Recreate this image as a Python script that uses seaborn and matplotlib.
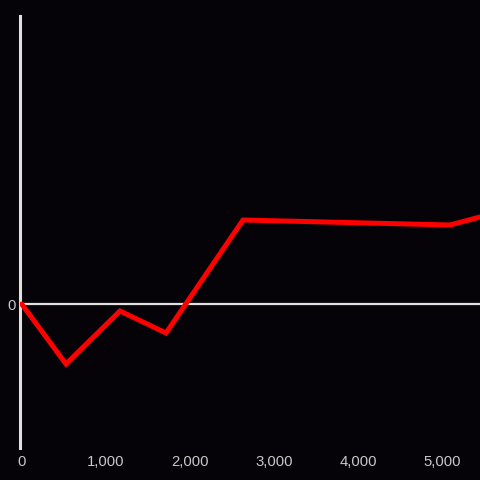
import pandas as pd
import seaborn as sns
import matplotlib
import matplotlib.pyplot as plt

sns.set_style('dark')
matplotlib.rcParams['font.family'] = ['Liberation Sans', 'DejaVu Sans']

bg = '#050307'
axis_col = '#e0e0e0'
label_col = '#c8c8c8'

x_vals = [0, 527, 1169, 1716, 2632, 5093, 5450]
y_vals = [0, -60, -7, -29, 84, 79, 87]
x_ticks = [0, 1000, 2000, 3000, 4000, 5000]

data = pd.DataFrame({'x': x_vals, 'y': y_vals})

fig = plt.figure(figsize=(4.8, 4.8), dpi=100, facecolor=bg)
ax = fig.add_axes([20 / 480, 32 / 480, 460 / 480, 432 / 480])
ax.set_facecolor(bg)

sns.lineplot(data=data, x='x', y='y', ax=ax, color='#ff0000', linewidth=3.6,
             solid_joinstyle='miter', zorder=3)

ax.axhline(0, color=axis_col, linewidth=1.6, zorder=2)
ax.set_xlim(-20, 5450)
ax.set_ylim(-144, 288)

ax.set_xticks(x_ticks)
ax.set_xticklabels([f'{t:,}' for t in x_ticks])
ax.set_yticks([0])
ax.set_yticklabels(['0'])
ax.tick_params(colors=label_col, labelsize=10.7, length=0, pad=5)
ax.tick_params(axis='y', pad=3)
ax.set_xlabel('')
ax.set_ylabel('')
ax.grid(False)

for side in ['top', 'right', 'bottom']:
    ax.spines[side].set_visible(False)
ax.spines['left'].set_color(axis_col)
ax.spines['left'].set_linewidth(2.2)
ax.spines['left'].set_position(('data', -20))

fig.savefig('out.png', dpi=100, facecolor=bg)
